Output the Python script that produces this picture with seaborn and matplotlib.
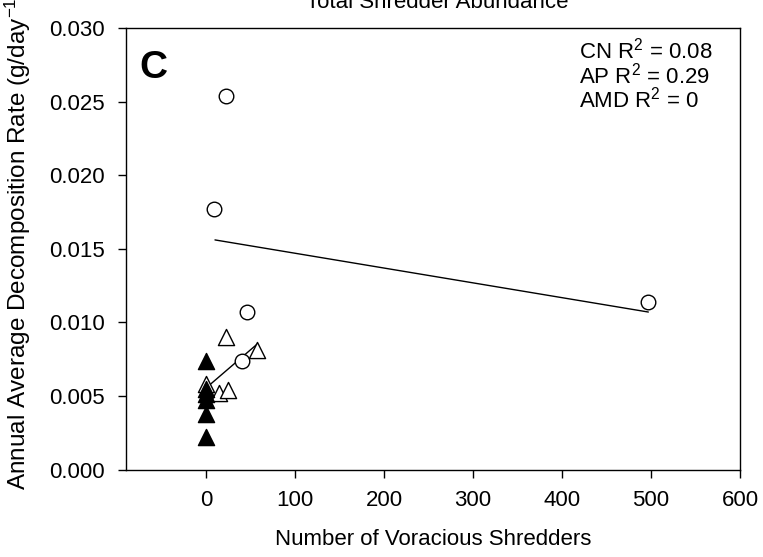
import matplotlib
matplotlib.use("Agg")
import matplotlib.pyplot as plt
import seaborn as sns
import pandas as pd

# ---- data ----
cn_x = [22, 9, 46, 40, 497]
cn_y = [0.0254, 0.0177, 0.0107, 0.0074, 0.0114]

ap_x = [22, 57, 0, 14, 25]
ap_y = [0.0090, 0.0081, 0.0058, 0.0052, 0.0054]

amd_x = [0, 0, 0, 0, 0, 0]
amd_y = [0.0074, 0.0055, 0.0051, 0.0047, 0.0038, 0.0022]

# regression lines (end points)
cn_fit_x = [10, 497]
cn_fit_y = [0.0156, 0.0107]
ap_fit_x = [5, 57]
ap_fit_y = [0.0058, 0.0085]

r2_labels = ["CN R$^2$ = 0.08", "AP R$^2$ = 0.29", "AMD R$^2$ = 0"]
x_ticks = [0, 100, 200, 300, 400, 500, 600]
y_ticks = [0.000, 0.005, 0.010, 0.015, 0.020, 0.025, 0.030]

sns.set_theme(style="ticks")
plt.rcParams.update({
    "font.family": ["Liberation Sans", "DejaVu Sans"],
    "mathtext.fontset": "custom",
    "mathtext.rm": "Liberation Sans",
    "mathtext.it": "Liberation Sans:italic",
    "mathtext.bf": "Liberation Sans:bold",
    "text.color": "black",
    "axes.labelcolor": "black",
    "axes.linewidth": 1.0,
    "axes.edgecolor": "black",
    "xtick.major.size": 6,
    "ytick.major.size": 6,
    "xtick.major.width": 1.0,
    "ytick.major.width": 1.0,
    "xtick.major.pad": 9,
    "ytick.major.pad": 9,
    "xtick.color": "black",
    "ytick.color": "black",
    "xtick.labelcolor": "black",
    "ytick.labelcolor": "black",
})

fig = plt.figure(figsize=(7.63, 5.57), dpi=100)
ax = fig.add_axes([126 / 763, 87.5 / 557, 614 / 763, 441.5 / 557])

cn = pd.DataFrame({"x": cn_x, "y": cn_y})
ap = pd.DataFrame({"x": ap_x, "y": ap_y})
amd = pd.DataFrame({"x": amd_x, "y": amd_y})

sns.lineplot(x=cn_fit_x, y=cn_fit_y, ax=ax, color="black", linewidth=1.0, zorder=2)
sns.lineplot(x=ap_fit_x, y=ap_fit_y, ax=ax, color="black", linewidth=1.0, zorder=2)

sns.scatterplot(data=cn, x="x", y="y", ax=ax, marker="o", s=110,
                facecolor="white", edgecolor="black", linewidth=1.0, zorder=3)
sns.scatterplot(data=ap, x="x", y="y", ax=ax, marker="^", s=135,
                facecolor="white", edgecolor="black", linewidth=1.0, zorder=3)
sns.scatterplot(data=amd, x="x", y="y", ax=ax, marker="^", s=135,
                color="black", edgecolor="black", linewidth=1.0, zorder=4)

ax.set_xlim(-90, 600)
ax.set_ylim(0, 0.030)
ax.set_xticks(x_ticks)
ax.set_yticks(y_ticks)
ax.set_yticklabels([f"{v:.3f}" for v in y_ticks])
ax.tick_params(axis="both", labelsize=16, direction="out", colors="black")
ax.set_xlabel("Number of Voracious Shredders", fontsize=16, labelpad=13)
ax.set_ylabel("")
for side in ["top", "right", "left", "bottom"]:
    ax.spines[side].set_visible(True)

# y label runs off the top edge in the reference
fig.text(18 / 763, 1 - 490 / 557, "Annual Average Decomposition Rate (g/day$^{-1}$)",
         rotation=90, ha="center", va="bottom", fontsize=17.5)
# title is cut by the top edge in the reference
fig.text(437 / 763, 1 - 8 / 557, "Total Shredder Abundance",
         ha="center", va="baseline", fontsize=16)

ax.text(0.021, 0.887, "C", transform=ax.transAxes, fontsize=28,
        fontweight="bold", ha="left", va="baseline")
for lab, yy in zip(r2_labels, [0.930, 0.875, 0.821]):
    ax.text(0.738, yy, lab, transform=ax.transAxes, fontsize=16,
            ha="left", va="baseline")

fig.savefig("out.png", dpi=100)
